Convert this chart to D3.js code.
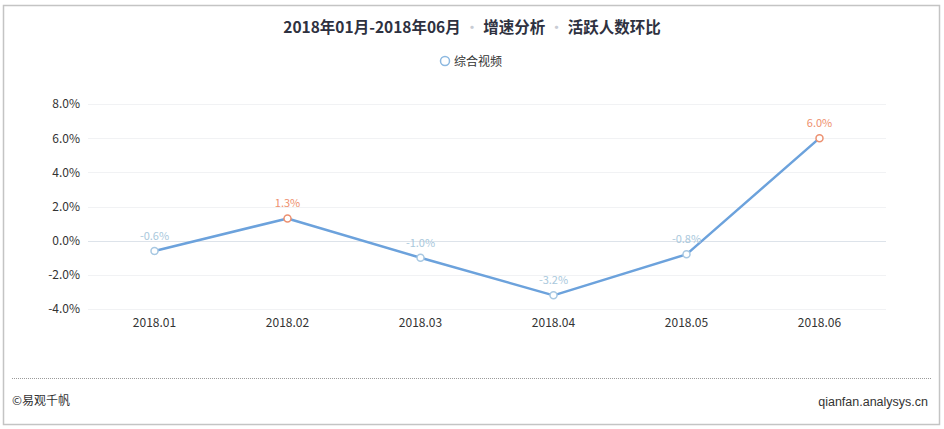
<!DOCTYPE html>
<html><head><meta charset="utf-8">
<script src="https://cdn.jsdelivr.net/npm/d3@7"></script>
<style>
html,body{margin:0;padding:0;background:#fff;}
svg{display:block;font-family:"Microsoft YaHei","Noto Sans CJK SC","Noto Sans",sans-serif;}
</style></head>
<body>
<svg id="chart" width="944" height="429"></svg>
<script>
const categories = ["2018.01","2018.02","2018.03","2018.04","2018.05","2018.06"];
const values = [-0.6, 1.3, -1.0, -3.2, -0.8, 6.0];
const yTicks = [-4, -2, 0, 2, 4, 6, 8];
const seriesName = "综合视频";
const titleParts = ["2018年01月-2018年06月", "增速分析", "活跃人数环比"];

const svg = d3.select("#chart");

svg.append("rect").attr("x", 3.5).attr("y", 5.5).attr("width", 936).attr("height", 419)
  .attr("fill", "#fff").attr("stroke", "#c4c4c4").attr("stroke-width", 1.5);

const x = d3.scaleBand().domain(categories).range([88, 886]);
const y = d3.scaleLinear().domain([-4, 8]).range([309, 104]);

// title
const t = svg.append("text").attr("x", 472).attr("y", 33).attr("text-anchor", "middle")
  .attr("font-size", 15.5).attr("font-weight", "bold").attr("fill", "#2e3140");
titleParts.forEach((p, i) => {
  if (i > 0) t.append("tspan").attr("fill", "#c8ccd4").attr("font-weight", "normal").text(" · ");
  t.append("tspan").text(p);
});

// legend
svg.append("circle").attr("cx", 445).attr("cy", 61).attr("r", 4.5)
  .attr("fill", "#fff").attr("stroke", "#8cb8e0").attr("stroke-width", 1.5);
svg.append("text").attr("x", 454).attr("y", 65.5).attr("font-size", 12).attr("fill", "#333").text(seriesName);

// grid
svg.append("g").selectAll("line").data(yTicks).join("line")
  .attr("x1", 88).attr("x2", 886)
  .attr("y1", d => Math.round(y(d)) + 0.5).attr("y2", d => Math.round(y(d)) + 0.5)
  .attr("stroke", d => d === 0 ? "#dde3ea" : "#f1f2f4").attr("stroke-width", 1);

// y axis
const yAxis = d3.axisLeft(y).tickValues(yTicks).tickSize(0).tickPadding(8)
  .tickFormat(d => d.toFixed(1) + "%");
const ya = svg.append("g").attr("transform", "translate(88,0)").call(yAxis);
ya.select(".domain").remove();
ya.selectAll("text").attr("font-size", 12).attr("fill", "#333")
  .attr("font-family", "\"Microsoft YaHei\",\"Noto Sans CJK SC\",sans-serif");

// x axis
const xAxis = d3.axisBottom(x).tickSize(0).tickPadding(9);
const xa = svg.append("g").attr("transform", "translate(0,309)").call(xAxis);
xa.select(".domain").remove();
xa.selectAll("text").attr("font-size", 12).attr("fill", "#333")
  .attr("font-family", "\"Microsoft YaHei\",\"Noto Sans CJK SC\",sans-serif");

// line
const data = categories.map((c, i) => ({c, v: values[i]}));
const line = d3.line().x(d => x(d.c) + x.bandwidth() / 2).y(d => y(d.v));
svg.append("path").datum(data).attr("d", line).attr("fill", "none")
  .attr("stroke", "#6ca2dc").attr("stroke-width", 2.5).attr("stroke-linejoin", "round");

svg.append("g").selectAll("circle").data(data).join("circle")
  .attr("cx", d => x(d.c) + x.bandwidth() / 2).attr("cy", d => y(d.v)).attr("r", 3.5)
  .attr("fill", "#fff").attr("stroke", d => d.v >= 0 ? "#ec9070" : "#a8c8e2").attr("stroke-width", 1.5);

svg.append("g").selectAll("text").data(data).join("text")
  .attr("x", d => x(d.c) + x.bandwidth() / 2).attr("y", d => y(d.v) - 11)
  .attr("text-anchor", "middle").attr("font-size", 11)
  .attr("fill", d => d.v >= 0 ? "#ee8f6e" : "#a9c8dc")
  .text(d => d.v.toFixed(1) + "%");

// footer
svg.append("line").attr("x1", 12).attr("x2", 932).attr("y1", 378.5).attr("y2", 378.5)
  .attr("stroke", "#9a9a9a").attr("stroke-width", 1).attr("stroke-dasharray", "1,1");
svg.append("text").attr("x", 12).attr("y", 405).attr("font-size", 12).attr("fill", "#333").text("©易观千帆");
svg.append("text").attr("x", 928).attr("y", 406).attr("text-anchor", "end").attr("font-size", 12.5)
  .attr("fill", "#333").attr("font-family", "\"Liberation Sans Narrow\",\"Liberation Sans\",Arial,sans-serif").text("qianfan.analysys.cn");
</script>
</body></html>
